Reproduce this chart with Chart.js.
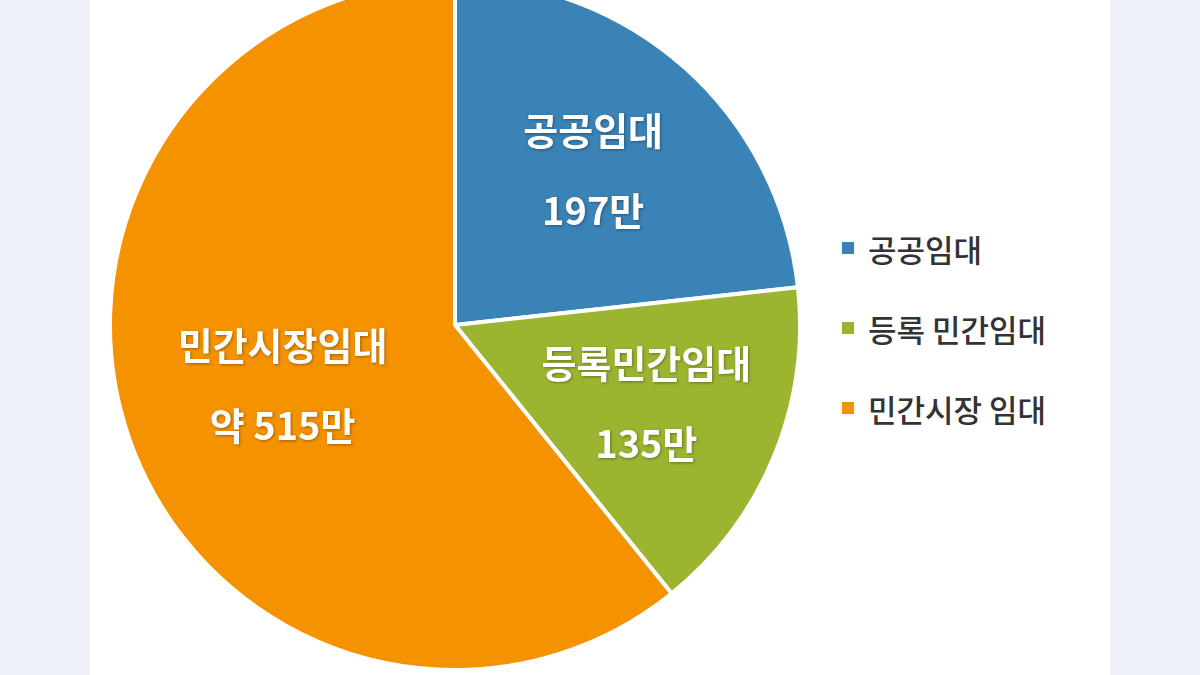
<!DOCTYPE html>
<html><head><meta charset="utf-8">
<script src="https://cdn.jsdelivr.net/npm/chart.js@4"></script>
<style>
body{margin:0;width:1200px;height:675px;background:#edf1f7;overflow:hidden;font-family:"Noto Sans CJK KR",sans-serif;}
#page{position:absolute;left:90px;top:0;width:1020px;height:675px;background:#fff;}
#wrap{position:absolute;left:108px;top:-22px;width:694px;height:694px;}
#legend{position:absolute;left:842px;top:208px;font-size:31px;font-weight:500;color:#333;}
#legend div{height:80px;display:flex;align-items:center;}
#legend span.box{display:inline-block;width:12px;height:12px;margin-right:14px;}
</style></head><body>
<div id="page"></div>
<div id="wrap"><canvas id="pie"></canvas></div>
<div id="legend"></div>
<script>
const labels = ['공공임대', '등록 민간임대', '민간시장 임대'];
const sliceNames = ['공공임대', '등록민간임대', '민간시장임대'];
const valueTexts = ['197만', '135만', '약 515만'];
const values = [197, 135, 515];
const colors = ['#3a83b6', '#9bb531', '#f59200'];

document.getElementById('legend').innerHTML = labels.map((l, i) =>
    `<div><span class="box" style="background:${colors[i]}"></span>${l}</div>`).join('');

// 조각 안의 라벨
const sliceLabels = {
    id: 'sliceLabels',
    afterDatasetsDraw(chart) {
        const ctx = chart.ctx;
        chart.getDatasetMeta(0).data.forEach((arc, i) => {
            const mid = (arc.startAngle + arc.endAngle) / 2;
            const r = arc.outerRadius * (i === 2 ? 0.53 : 0.6);
            const x = arc.x + Math.cos(mid) * r;
            const y = arc.y + Math.sin(mid) * r;
            ctx.save();
            ctx.fillStyle = '#fff';
            ctx.font = 'bold 38px "Noto Sans CJK KR"';
            ctx.textAlign = 'center';
            ctx.textBaseline = 'middle';
            ctx.shadowColor = 'rgba(0,0,0,0.35)';
            ctx.shadowBlur = 3;
            ctx.shadowOffsetX = 1; ctx.shadowOffsetY = 1;
            ctx.fillText(sliceNames[i], x, y - 40);
            ctx.fillText(valueTexts[i], x, y + 40);
            ctx.restore();
        });
    }
};

new Chart(document.getElementById('pie').getContext('2d'), {
    type: 'pie',
    data: {
        labels: labels,
        datasets: [{ data: values, backgroundColor: colors, borderColor: '#fff', borderWidth: 4 }],
    },
    options: {
        responsive: true,
        maintainAspectRatio: false,
        animation: false,
        layout: { padding: 0 },
        plugins: { legend: { display: false }, tooltip: { enabled: false } },
    },
    plugins: [sliceLabels],
});
</script>
</body></html>
